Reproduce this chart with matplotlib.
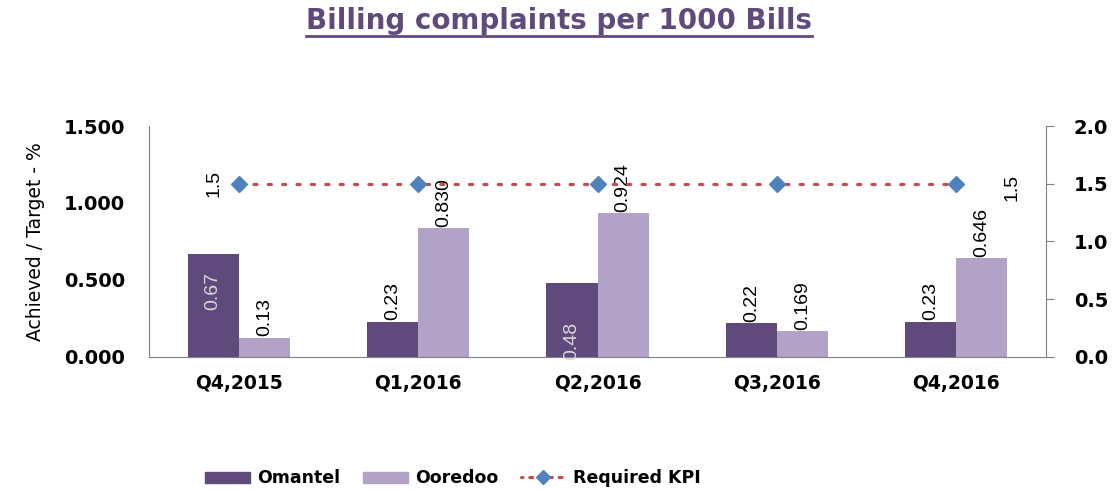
import numpy as np
import matplotlib
matplotlib.use('Agg')
import matplotlib.pyplot as plt
from matplotlib.lines import Line2D
from matplotlib.patches import Patch

# data
quarters = ['Q4,2015', 'Q1,2016', 'Q2,2016', 'Q3,2016', 'Q4,2016']
omantel = [0.67, 0.23, 0.48, 0.22, 0.23]
ooredoo = [0.125, 0.838, 0.935, 0.169, 0.643]
omantel_labels = ['0.67', '0.23', '0.48', '0.22', '0.23']
ooredoo_labels = ['0.13', '0.830', '0.924', '0.169', '0.646']
kpi = [1.5, 1.5, 1.5, 1.5, 1.5]

c_oman = '#604a7b'
c_oore = '#b3a2c7'
c_line = '#c0504d'
c_mark = '#4f81bd'
lbl_font = ['Liberation Sans Narrow', 'Liberation Sans', 'DejaVu Sans']

fig = plt.figure(figsize=(11.18, 4.92), dpi=100)
ax = fig.add_axes([0.1333, 0.2744, 0.8023, 0.4695])
ax2 = ax.twinx()

x = np.arange(len(quarters))
w = 0.285
ax.bar(x - w / 2, omantel, w, color=c_oman)
ax.bar(x + w / 2, ooredoo, w, color=c_oore)

ax.set_xlim(-0.5, len(quarters) - 0.5)
ax.set_ylim(0, 1.5)
ax.set_yticks([0, 0.5, 1.0, 1.5])
ax.set_yticklabels(['%.3f' % v for v in [0, 0.5, 1.0, 1.5]])
ax.set_xticks(x)
ax.set_xticklabels(quarters)
ax.tick_params(axis='y', length=0, pad=17, labelsize=14)
ax.tick_params(axis='x', length=0, pad=12, labelsize=13.5)
for t in ax.get_yticklabels() + ax.get_xticklabels():
    t.set_fontweight('bold')
ax.set_ylabel('Achieved / Target - %', fontsize=13.5, labelpad=14)

for s in ['top', 'right']:
    ax.spines[s].set_visible(False)
ax.spines['left'].set_color('#808080')
ax.spines['bottom'].set_color('#808080')

ax2.set_ylim(0, 2.0)
ax2.set_yticks([0, 0.5, 1.0, 1.5, 2.0])
ax2.set_yticklabels(['%.1f' % v for v in [0, 0.5, 1.0, 1.5, 2.0]])
ax2.tick_params(axis='y', length=6, color='#808080', pad=14, labelsize=14)
for t in ax2.get_yticklabels():
    t.set_fontweight('bold')
for s in ['top', 'left', 'bottom']:
    ax2.spines[s].set_visible(False)
ax2.spines['right'].set_color('#808080')

ax2.plot(x, kpi, color=c_line, linestyle=(0, (1, 3.5)), linewidth=2.3,
         marker='D', markersize=8, markerfacecolor=c_mark, markeredgecolor=c_mark,
         dash_capstyle='round')

# value labels, rotated like the original
for i in range(len(quarters)):
    if i == 0:
        ax.annotate(omantel_labels[i], (x[i] - w / 2, omantel[i]), xytext=(0, -13),
                    textcoords='offset points', rotation=90, ha='center', va='top',
                    fontsize=14, color='#d9d9d9', family=lbl_font)
    elif i == 2:
        ax.annotate(omantel_labels[i], (x[i] - w / 2, 0), xytext=(0, -2),
                    textcoords='offset points', rotation=90, ha='center', va='bottom',
                    fontsize=14, color='#d9d9d9', family=lbl_font)
    else:
        ax.annotate(omantel_labels[i], (x[i] - w / 2, omantel[i]), xytext=(0, 1),
                    textcoords='offset points', rotation=90, ha='center', va='bottom',
                    fontsize=14, color='black', family=lbl_font)
    ax.annotate(ooredoo_labels[i], (x[i] + w / 2, ooredoo[i]), xytext=(0, 1),
                textcoords='offset points', rotation=90, ha='center', va='bottom',
                fontsize=14, color='black', family=lbl_font)

ax2.annotate('1.5', (x[0], kpi[0]), xytext=(-18, 0), textcoords='offset points',
             rotation=90, ha='center', va='center', fontsize=14, family=lbl_font)
ax2.annotate('1.5', (x[-1], kpi[-1]), xytext=(40, -3), textcoords='offset points',
             rotation=90, ha='center', va='center', fontsize=14, family=lbl_font)

# legend
handles = [Patch(color=c_oman), Patch(color=c_oore),
           Line2D([], [], color=c_line, linestyle=(0.5, (1, 2.2)), linewidth=2.2,
                  marker='D', markersize=7.5, markerfacecolor=c_mark,
                  markeredgecolor=c_mark, dash_capstyle='round')]
fig.legend(handles, ['Omantel', 'Ooredoo', 'Required KPI'], loc='center',
           bbox_to_anchor=(0.405, 0.028), ncol=3, frameon=False,
           prop={'weight': 'bold', 'size': 12.5}, handlelength=2.6,
           handleheight=0.6, columnspacing=1.3, handletextpad=0.4)

# underlined title
title = fig.text(0.5, 0.958, 'Billing complaints per 1000 Bills', ha='center',
                 va='center', fontsize=20, fontweight='bold', color='#604a7b')
fig.canvas.draw()
bb = title.get_window_extent().transformed(fig.transFigure.inverted())
fig.add_artist(Line2D([bb.x0, bb.x1], [bb.y0 - 0.003, bb.y0 - 0.003],
                      color='#604a7b', linewidth=2, transform=fig.transFigure))

fig.savefig('out.png', dpi=100)
